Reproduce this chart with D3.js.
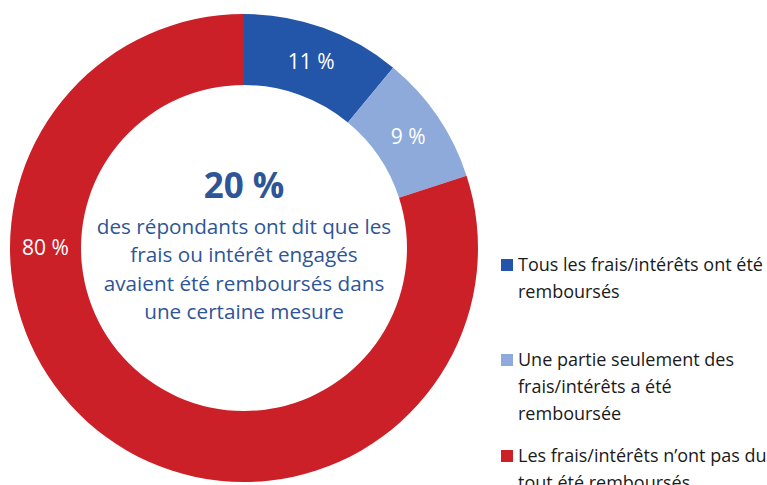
<!DOCTYPE html>
<html>
<head>
<meta charset="utf-8">
<script src="https://cdn.jsdelivr.net/npm/d3@7"></script>
<style>
  body { margin: 0; background: #fff; }
  svg text { font-family: "Open Sans", sans-serif; }
</style>
</head>
<body>
<svg id="donut"></svg>
<script>
// categories and values
var categories = [
    "Tous les frais/intérêts ont été remboursés",
    "Une partie seulement des frais/intérêts a été remboursée",
    "Les frais/intérêts n’ont pas du tout été remboursés"
];
var values = [11, 9, 80];
var colors = ["#2356a8", "#8eaadb", "#cc2029"];

// legend text broken the way the picture breaks it
var legendLines = [
    ["Tous les frais/intérêts ont été", "remboursés"],
    ["Une partie seulement des", "frais/intérêts a été", "remboursée"],
    ["Les frais/intérêts n’ont pas du", "tout été remboursés"]
];

var centerTitle = "20 %";
var centerLines = [
    "des répondants ont dit que les",
    "frais ou intérêt engagés",
    "avaient été remboursés dans",
    "une certaine mesure"
];

var screen = {width: 767, height: 485};
var center = {x: 244, y: 248};
var outerR = 234;
var innerR = 163;

var svg = d3.select("#donut")
    .attr("width", screen.width)
    .attr("height", screen.height);

// donut slices
var pie = d3.pie().sort(null).value(function(d) { return d; });
var arc = d3.arc().innerRadius(innerR).outerRadius(outerR);
var midR = (innerR + outerR) / 2;
var labelArc = d3.arc().innerRadius(midR).outerRadius(midR);

var g = svg.append("g")
    .attr("transform", "translate(" + center.x + "," + center.y + ")");

var slices = pie(values);

g.selectAll("path")
    .data(slices)
    .enter()
    .append("path")
    .attr("d", arc)
    .attr("fill", function(d, i) { return colors[i]; });

// percentage labels; the big slice gets its label at 9 o'clock like the original
var labelPos = function(d) {
    if (d.endAngle - d.startAngle > Math.PI) {
        return labelArc.centroid({startAngle: 1.5 * Math.PI, endAngle: 1.5 * Math.PI});
    }
    return labelArc.centroid(d);
};

g.selectAll("text.pct")
    .data(slices)
    .enter()
    .append("text")
    .classed("pct", true)
    .attr("transform", function(d) { return "translate(" + labelPos(d) + ")"; })
    .attr("text-anchor", "middle")
    .attr("dy", "0.35em")
    .attr("fill", "#fff")
    .attr("font-size", 21)
    .text(function(d) { return d.data + " %"; });

// text in the hole
g.append("text")
    .attr("text-anchor", "middle")
    .attr("y", -50)
    .attr("fill", "#2e5597")
    .attr("font-size", 35)
    .attr("font-weight", "bold")
    .text(centerTitle);

g.selectAll("text.sub")
    .data(centerLines)
    .enter()
    .append("text")
    .classed("sub", true)
    .attr("text-anchor", "middle")
    .attr("y", function(d, i) { return -14 + i * 28.4; })
    .attr("fill", "#2e5597")
    .attr("font-size", 20.7)
    .text(function(d) { return d; });

// legend
var legendTop = [265, 360, 456];
var legend = svg.append("g");

legendLines.forEach(function(lines, i) {
    legend.append("rect")
        .attr("x", 501)
        .attr("y", legendTop[i] - 6)
        .attr("width", 12)
        .attr("height", 12)
        .attr("fill", colors[i]);
    legend.selectAll(null)
        .data(lines)
        .enter()
        .append("text")
        .attr("x", 518)
        .attr("y", function(d, j) { return legendTop[i] + j * 26.8; })
        .attr("dy", "0.35em")
        .attr("fill", "#1a1a1a")
        .attr("font-size", 18)
        .text(function(d) { return d; });
});
</script>
</body>
</html>
